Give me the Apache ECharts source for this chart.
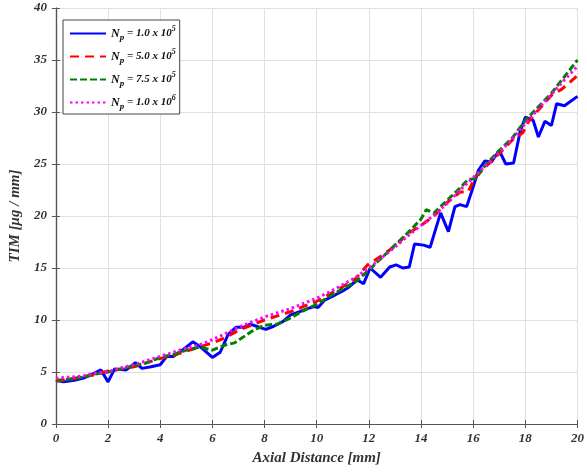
<!DOCTYPE html>
<html>
<head>
<meta charset="utf-8">
<script src="https://cdn.jsdelivr.net/npm/echarts@6/dist/echarts.min.js"></script>
<style>html,body{margin:0;padding:0;background:#fff}#c{width:587px;height:473px}</style>
</head>
<body>
<div id="c"></div>
<script>
// ---- data ----
var xTicks = [0, 2, 4, 6, 8, 10, 12, 14, 16, 18, 20];
var yTicks = [0, 5, 10, 15, 20, 25, 30, 35, 40];
var seriesNames = ['Np = 1.0 x 10^5', 'Np = 5.0 x 10^5', 'Np = 7.5 x 10^5', 'Np = 1.0 x 10^6'];

var blueX = [0,0.3,0.7,1.1,1.4,1.73,2.0,2.25,2.7,3.05,3.3,3.65,4.0,4.25,4.5,4.8,5.25,5.55,6.0,6.3,6.6,6.9,7.2,7.45,7.8,8.05,8.35,8.7,9.0,9.35,9.65,9.9,10.05,10.3,10.7,11.0,11.2,11.55,11.8,12.05,12.45,12.8,13.05,13.3,13.55,13.75,14.1,14.35,14.75,15.05,15.3,15.5,15.75,16.0,16.2,16.45,16.7,17.0,17.25,17.55,17.8,18.0,18.3,18.5,18.75,19.0,19.2,19.5,20.0];
var blueY = [4.2,4.05,4.2,4.45,4.8,5.2,4.05,5.3,5.2,5.9,5.35,5.5,5.7,6.5,6.5,7.0,7.9,7.4,6.4,6.9,8.6,9.3,9.3,9.6,9.3,9.1,9.4,9.85,10.5,10.8,11.1,11.3,11.2,11.9,12.4,12.8,13.1,13.85,13.5,15.0,14.1,15.1,15.3,15.0,15.1,17.3,17.2,17.0,20.3,18.5,20.9,21.1,20.9,22.8,24.4,25.3,25.2,26.3,25.0,25.1,28.1,29.5,29.2,27.6,29.1,28.7,30.8,30.6,31.5];

var redX = [0,0.5,1,1.5,2,2.5,3,3.5,4,4.5,5,5.5,6,6.5,7,7.5,8,8.5,9,9.5,10,10.5,11,11.5,11.95,12.5,13,13.5,14,14.5,15,15.5,15.8,16.1,16.5,17,17.5,17.9,18.1,18.5,19,19.4,20];
var redY = [4.1,4.3,4.5,4.75,5.1,5.3,5.5,5.9,6.3,6.6,7.0,7.4,7.8,8.3,9.0,9.5,10.0,10.4,10.8,11.3,11.8,12.5,13.2,14.0,15.3,16.2,17.1,18.3,19.1,20.0,21.3,22.3,22.3,23.8,24.8,26.0,27.3,28.0,29.0,30.2,31.6,32.2,33.5];

var greenX = [0,0.5,1,1.5,2,2.5,3,3.5,4,4.5,5,5.5,6,6.5,6.85,7.5,8,8.5,9,9.5,10,10.5,11,11.5,12,12.5,13,13.5,14,14.2,14.5,15,15.5,15.8,16.1,16.5,17,17.5,18,18.5,19,19.5,20];
var greenY = [4.2,4.3,4.5,4.8,5.0,5.3,5.6,5.9,6.4,6.7,7.1,7.4,7.1,7.6,7.8,8.9,9.5,9.6,10.2,10.9,11.5,12.3,13.0,13.7,14.8,16.0,17.2,18.4,19.7,20.6,20.3,21.5,22.7,23.5,23.6,25.0,26.3,27.5,29.2,30.5,31.8,33.4,35.0];

var magX = [0,0.5,1,1.5,2,2.5,3,3.5,4,4.5,5,5.5,6,6.5,7,7.5,8,8.5,9,9.5,10,10.5,11,11.5,12,12.5,13,13.5,14,14.5,15,15.5,16,16.5,17,17.5,18,18.5,19,19.5,20];
var magY = [4.4,4.5,4.6,4.9,5.0,5.4,5.7,6.1,6.5,6.9,7.3,7.6,8.1,8.7,9.3,9.8,10.3,10.7,11.1,11.6,12.1,12.7,13.4,14.1,15.0,16.0,17.0,18.1,19.1,20.1,21.2,22.5,23.7,24.9,26.1,27.4,28.9,30.3,31.7,33.1,34.4];

function pairs(xs, ys) { return xs.map(function (x, i) { return [x, ys[i]]; }); }

var FONT = '"Liberation Serif", "DejaVu Serif", serif';
var chart = echarts.init(document.getElementById('c'), null, {renderer: 'canvas'});

var styles = [
  {color: '#0000ff', type: 'solid'},
  {color: '#ff0000', type: [9, 6]},
  {color: '#008000', type: [7, 3]},
  {color: '#ff00ff', type: [2.5, 3]}
];
var datas = [pairs(blueX, blueY), pairs(redX, redY), pairs(greenX, greenY), pairs(magX, magY)];

var series = datas.map(function (d, i) {
  return {
    name: seriesNames[i],
    type: 'line',
    data: d,
    symbol: 'none',
    smooth: false,
    animation: false,
    color: styles[i].color,
    lineStyle: {color: styles[i].color, width: 3, type: styles[i].type}
  };
});

function legendFmt(name) {
  var m = name.match(/Np = ([\d.]+) x 10\^(\d)/);
  return '{n|N}{s|p}{t| = ' + m[1] + ' x 10}{e|' + m[2] + '}';
}

var common = {
  min: 0,
  axisLine: {show: true, lineStyle: {color: '#555', width: 1.2}},
  axisTick: {show: true, inside: true, length: 4, lineStyle: {color: '#555'}},
  axisLabel: {fontFamily: FONT, fontWeight: 'bold', fontStyle: 'italic', fontSize: 13, color: '#333'}
};

chart.setOption({
  backgroundColor: '#fff',
  animation: false,
  grid: {left: 51, right: 7, top: 8, bottom: 49, containLabel: false},
  legend: {
    orient: 'vertical',
    left: 63, top: 20,
    padding: [5, 4, 3, 6],
    itemWidth: 36, itemHeight: 12, itemGap: 6,
    borderColor: '#444', borderWidth: 1,
    backgroundColor: '#fff',
    itemStyle: {opacity: 0},
    formatter: legendFmt,
    textStyle: {
      fontFamily: FONT, fontWeight: 'bold', fontStyle: 'italic', color: '#111',
      rich: {
        n: {fontFamily: FONT, fontWeight: 'bold', fontStyle: 'italic', fontSize: 12, color: '#111'},
        s: {fontFamily: FONT, fontWeight: 'bold', fontStyle: 'italic', fontSize: 9, color: '#111', padding: [8, 0, 0, 0]},
        t: {fontFamily: FONT, fontWeight: 'bold', fontStyle: 'italic', fontSize: 11, color: '#111'},
        e: {fontFamily: FONT, fontWeight: 'bold', fontStyle: 'italic', fontSize: 8, color: '#111', padding: [0, 0, 9, 0]}
      }
    },
    data: seriesNames
  },
  xAxis: [
    Object.assign({}, common, {
      type: 'value', max: 20, interval: 2, position: 'bottom',
      name: 'Axial Distance [mm]', nameLocation: 'middle', nameGap: 27,
      nameTextStyle: {fontFamily: FONT, fontWeight: 'bold', fontStyle: 'italic', fontSize: 15, color: '#333'},
      axisLabel: Object.assign({}, common.axisLabel, {margin: 8, formatter: function (v) { return xTicks.indexOf(v) >= 0 ? String(v) : ''; }}),
      splitLine: {show: true, lineStyle: {color: '#e0e0e0', width: 1}}
    }),
    Object.assign({}, common, {
      type: 'value', max: 20, interval: 2, position: 'top',
      axisLabel: {show: false}, splitLine: {show: false}
    })
  ],
  yAxis: [
    Object.assign({}, common, {
      type: 'value', max: 40, interval: 5, position: 'left',
      name: 'TIM [\u03bcg / mm]', nameLocation: 'middle', nameGap: 27, nameRotate: 90,
      nameTextStyle: {fontFamily: FONT, fontWeight: 'bold', fontStyle: 'italic', fontSize: 15, color: '#333'},
      axisLabel: Object.assign({}, common.axisLabel, {margin: 9, formatter: function (v) { return yTicks.indexOf(v) >= 0 ? String(v) : ''; }}),
      splitLine: {show: true, lineStyle: {color: '#e0e0e0', width: 1}}
    }),
    Object.assign({}, common, {
      type: 'value', max: 40, interval: 5, position: 'right',
      axisLabel: {show: false}, splitLine: {show: false}
    })
  ],
  series: series
});
</script>
</body>
</html>
